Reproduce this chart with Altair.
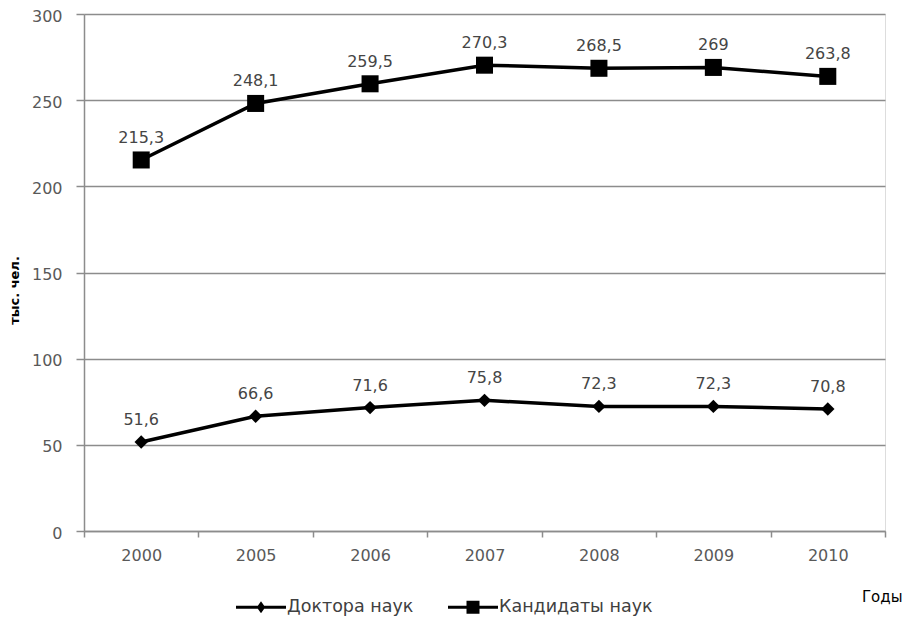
import altair as alt
import pandas as pd

years = ["2000", "2005", "2006", "2007", "2008", "2009", "2010"]
doctors = [51.6, 66.6, 71.6, 75.8, 72.3, 72.3, 70.8]
candidates = [215.3, 248.1, 259.5, 270.3, 268.5, 269.0, 263.8]
series_names = ["Доктора наук", "Кандидаты наук"]

def fmt(v):
    s = f"{v:.1f}".replace(".", ",")
    return s[:-2] if s.endswith(",0") else s

rows = []
for name, vals in zip(series_names, [doctors, candidates]):
    for y, v in zip(years, vals):
        rows.append({"year": y, "value": v, "series": name, "label": fmt(v)})
df = pd.DataFrame(rows)

FONT = "DejaVu Sans"
W, H = 801, 517
GRAY = "#8c8c8c"

x_enc = alt.X("year:O", sort=years,
              scale=alt.Scale(type="band", paddingInner=0, paddingOuter=0),
              axis=alt.Axis(title="Годы", tickBand="extent", labelAngle=0,
                            labelFontSize=16, labelColor="#595959", labelFont=FONT,
                            labelPadding=10, tickSize=6, tickColor=GRAY, tickWidth=1.5,
                            domainColor=GRAY, domainWidth=1.5, grid=False,
                            titleFont=FONT, titleFontSize=15, titleFontWeight="normal",
                            titleColor="#000000", titleAnchor="end", titleAlign="right",
                            titleX=W + 17, titleY=65, titleBaseline="middle"))
y_enc = alt.Y("value:Q",
              scale=alt.Scale(domain=[0, 300], nice=False),
              axis=alt.Axis(title="тыс. чел.", values=[0, 50, 100, 150, 200, 250, 300],
                            labelFontSize=16, labelColor="#595959", labelFont=FONT,
                            labelPadding=14, labelOffset=2, tickSize=8, tickColor=GRAY,
                            tickWidth=1.5, domainColor=GRAY, domainWidth=1.5,
                            gridColor=GRAY, gridWidth=1.5,
                            titleFont=FONT, titleFontSize=13, titleFontWeight="bold",
                            titleColor="#000000", titleX=-70, titleY=276, titleAngle=-90,
                            titleAlign="center", titleBaseline="middle"))

base = alt.Chart(df)

lines = base.mark_line(color="black", strokeWidth=3.5).encode(
    x=x_enc, y=y_enc, detail="series:N")

points = base.mark_point(filled=True, color="black", opacity=1).encode(
    x=x_enc, y=y_enc,
    shape=alt.Shape("series:N", scale=alt.Scale(domain=series_names, range=["diamond", "square"]),
                    legend=None),
    size=alt.Size("series:N", scale=alt.Scale(domain=series_names, range=[180, 290]), legend=None))

labels = base.mark_text(fontSize=16, font=FONT, color="#454545", baseline="bottom", dy=-14).encode(
    x=x_enc, y=y_enc, text="label:N")

leg_diamond = "M-1,-0.06H1V0.06H-1Z M0,-0.24L0.17,0L0,0.24L-0.17,0Z"
leg_square = "M-1,-0.06H1V0.06H-1Z M-0.26,-0.26H0.26V0.26H-0.26Z"

legend_layer = base.mark_point(filled=True, color="black", opacity=0).encode(
    x=x_enc, y=y_enc,
    shape=alt.Shape("series:N",
                    scale=alt.Scale(domain=series_names, range=[leg_diamond, leg_square]),
                    legend=alt.Legend(title=None, orient="none", direction="horizontal",
                                      legendX=152, legendY=568, symbolSize=2500,
                                      symbolOpacity=1, symbolFillColor="black",
                                      symbolStrokeWidth=0, labelFont=FONT, labelFontSize=17.5,
                                      labelColor="#404040", labelOffset=1, columnPadding=34,
                                      symbolType="circle")))

chart = alt.layer(lines, points, labels, legend_layer).resolve_scale(
    shape="independent", size="independent"
).properties(
    width=W, height=H,
    autosize=alt.AutoSizeParams(type="none"),
    padding={"left": 76, "top": 6, "right": 20, "bottom": 88},
).configure_view(stroke=None).configure(background="white")

chart.save("out.html", embed_options={"renderer": "svg", "actions": False})
